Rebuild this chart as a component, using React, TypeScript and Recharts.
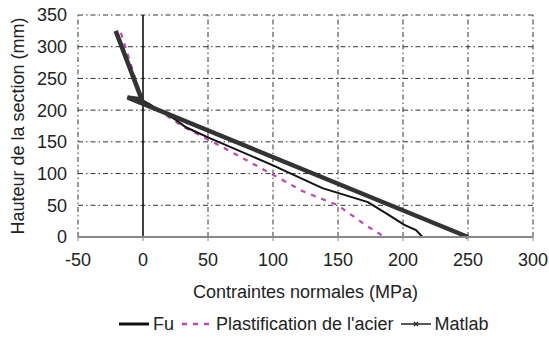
import { LineChart, Line, XAxis, YAxis, ReferenceLine, Legend } from "recharts";

// valeurs
const fuData = [
  { x: -20, y: 322 },
  { x: 0, y: 215 },
  { x: 25, y: 185 },
  { x: 33, y: 173 },
  { x: 50, y: 157 },
  { x: 100, y: 113 },
  { x: 138, y: 77 },
  { x: 173, y: 55 },
  { x: 188, y: 36 },
  { x: 201, y: 19 },
  { x: 210, y: 11 },
  { x: 215, y: 0 },
];

const plastData = [
  { x: -17, y: 322 },
  { x: -1, y: 218 },
  { x: 30, y: 175 },
  { x: 60, y: 143 },
  { x: 101, y: 97 },
  { x: 123, y: 72 },
  { x: 150, y: 50 },
  { x: 171, y: 19 },
  { x: 186, y: 0 },
];

const matlabData = [
  { x: -21, y: 325 },
  { x: -1, y: 217 },
  { x: -12, y: 220 },
  { x: 250, y: 0 },
];

const xTicks = [-50, 0, 50, 100, 150, 200, 250, 300];
const yTicks = [0, 50, 100, 150, 200, 250, 300, 350];

const font = "'Liberation Sans', Arial, sans-serif";
const textColor = "#222";

function LegendBox() {
  const item = { display: "flex", alignItems: "center" } as const;
  return (
    <div
      style={{
        height: 35,
        paddingTop: 12,
        boxSizing: "border-box",
        paddingLeft: 119,
        display: "flex",
        alignItems: "flex-start",
        fontFamily: font,
        fontSize: 18,
        lineHeight: "18px",
        color: textColor,
      }}
    >
      <div style={item}>
        <svg width={30} height={18}>
          <line x1={0} y1={9} x2={30} y2={9} stroke="#111" strokeWidth={3} />
        </svg>
        <span style={{ marginLeft: 4 }}>Fu</span>
      </div>
      <div style={{ ...item, marginLeft: 8 }}>
        <svg width={30} height={18}>
          <line x1={0} y1={9} x2={30} y2={9} stroke="#c046b4" strokeWidth={2.5} strokeDasharray="5 6" />
        </svg>
        <span style={{ marginLeft: 4 }}>Plastification de l'acier</span>
      </div>
      <div style={{ ...item, marginLeft: 7 }}>
        <svg width={30} height={18}>
          <line x1={0} y1={9} x2={30} y2={9} stroke="#222" strokeWidth={1.5} />
          <path d="M13,7 L17,11 M17,7 L13,11" stroke="#222" strokeWidth={1.2} />
        </svg>
        <span style={{ marginLeft: 4 }}>Matlab</span>
      </div>
    </div>
  );
}

export default function App() {
  return (
    <div style={{ position: "absolute", left: 0, top: 0, background: "#fff" }}>
      <LineChart width={549} height={338} margin={{ top: 15, right: 16, left: 0, bottom: 0 }}>
        <XAxis
          type="number"
          dataKey="x"
          domain={[-50, 300]}
          ticks={xTicks}
          allowDataOverflow
          height={66}
          stroke="#888"
          axisLine={{ stroke: "#888", strokeWidth: 2 }}
          tickLine={{ stroke: "#888" }}
          tickSize={4}
          tickMargin={12}
          tick={{ fill: textColor, fontSize: 18, fontFamily: font }}
          label={{
            value: "Contraintes normales (MPa)",
            position: "insideBottom",
            offset: 5,
            fill: textColor,
            fontSize: 18,
            fontFamily: font,
          }}
        />
        <YAxis
          type="number"
          dataKey="y"
          domain={[0, 350]}
          ticks={yTicks}
          width={78}
          axisLine={false}
          tickLine={false}
          tickSize={0}
          tickMargin={11}
          tick={{ fill: textColor, fontSize: 18, fontFamily: font }}
          label={{
            value: "Hauteur de la section (mm)",
            angle: -90,
            position: "insideLeft",
            offset: 18,
            fill: textColor,
            fontSize: 18,
            fontFamily: font,
            style: { textAnchor: "middle" },
          }}
        />
        {/* grille trait-point */}
        {xTicks.filter((t) => t !== 0).map((t) => (
          <ReferenceLine key={"gx" + t} x={t} stroke="#333" strokeWidth={1} strokeDasharray="5 3 1.5 3" />
        ))}
        {yTicks.filter((t) => t !== 0).map((t) => (
          <ReferenceLine key={"gy" + t} y={t} stroke="#333" strokeWidth={1} strokeDasharray="5 3 1.5 3" />
        ))}
        <ReferenceLine x={0} stroke="#000" strokeWidth={1.5} />
        <Legend verticalAlign="bottom" content={() => <LegendBox />} />
        <Line
          data={plastData}
          dataKey="y"
          name="Plastification de l'acier"
          stroke="#c046b4"
          strokeWidth={2.2}
          strokeDasharray="5 6"
          dot={false}
          isAnimationActive={false}
        />
        <Line
          data={fuData}
          dataKey="y"
          name="Fu"
          stroke="#111"
          strokeWidth={2}
          dot={false}
          isAnimationActive={false}
        />
        <Line
          data={matlabData}
          dataKey="y"
          name="Matlab"
          stroke="#333"
          strokeWidth={4.5}
          dot={false}
          isAnimationActive={false}
        />
      </LineChart>
    </div>
  );
}
